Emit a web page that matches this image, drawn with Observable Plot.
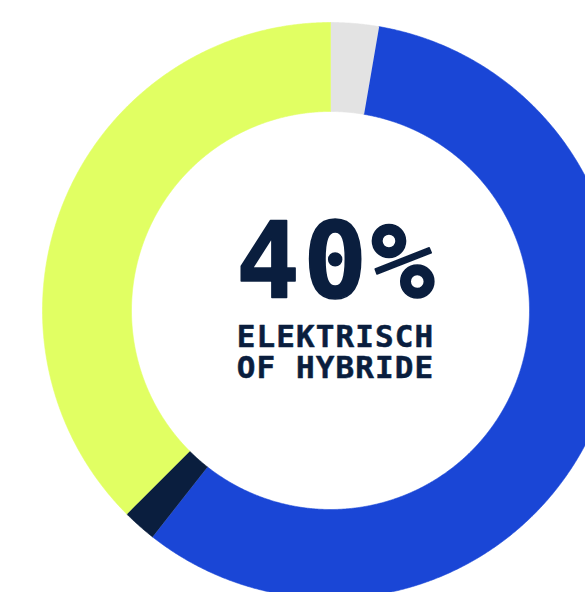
<!DOCTYPE html>
<html><head><meta charset="utf-8">
<script src="https://cdn.jsdelivr.net/npm/d3@7"></script>
<script src="https://cdn.jsdelivr.net/npm/@observablehq/plot@0.6"></script>
<style>body{margin:0;background:#fff}#chart svg{display:block}</style>
</head><body><div id="chart"></div>
<script>
// Data
const segments = ["Overig", "Benzine of diesel", "Elektrisch", "Hybride"];
const shares = [2.7, 57.9, 1.9, 37.5];
const segmentColors = ["#e3e3e3", "#1a46d6", "#0a1e3e", "#e1ff63"];
const headline = ["40%"];
const label = ["ELEKTRISCH\nOF HYBRIDE"];

// Build ring polygons from the shares (angles via d3.pie, clockwise from 12 o'clock)
const innerRatio = 0.691;
const arcs = d3.pie().sort(null).startAngle(0).endAngle(2 * Math.PI)(shares);
const ring = [];
arcs.forEach((a, i) => {
  const n = Math.max(4, Math.ceil((a.endAngle - a.startAngle) / (Math.PI / 720)));
  for (let k = 0; k <= n; k++) {
    const t = a.startAngle + (a.endAngle - a.startAngle) * k / n;
    ring.push({segment: segments[i], x: Math.sin(t), y: Math.cos(t)});
  }
  for (let k = n; k >= 0; k--) {
    const t = a.startAngle + (a.endAngle - a.startAngle) * k / n;
    ring.push({segment: segments[i], x: innerRatio * Math.sin(t), y: innerRatio * Math.cos(t)});
  }
});

const chart = Plot.plot({
  width: 585,
  height: 592,
  margin: 0,
  x: {domain: [-330 / 288, 255 / 288], axis: null},
  y: {domain: [-282 / 288, 310 / 288], axis: null},
  color: {domain: segments, range: segmentColors},
  style: {background: "#fff", overflow: "hidden"},
  marks: [
    Plot.line(ring, {x: "x", y: "y", z: "segment", fill: "segment", stroke: "segment", strokeWidth: 0.6, curve: "linear"}),
    Plot.text(headline, {x: () => 0, y: () => 0, text: d => d, lineAnchor: "bottom", dy: -13, dx: 6.5,
      fontFamily: "DejaVu Sans Mono", fontWeight: "bold", fontSize: 106, fill: "#0a1e3e",
      stroke: "#0a1e3e", strokeWidth: 1.6}),
    Plot.text(label, {x: () => 0, y: () => 0, text: d => d, lineAnchor: "top", dy: 14.5, dx: 5,
      lineHeight: 1, fontFamily: "DejaVu Sans Mono", fontWeight: "bold", fontSize: 31, fill: "#0a1e3e",
      stroke: "#0a1e3e", strokeWidth: 0.5})
  ]
});
// Letter spacing (not a Plot text option), applied to the rendered text
d3.select(chart).selectAll("text").each(function() {
  const t = this.textContent;
  if (t === headline[0]) this.setAttribute("letter-spacing", "3.5");
  else if (t.startsWith("ELEKTRISCH")) this.setAttribute("letter-spacing", "1.1");
});
document.getElementById("chart").append(chart);
</script>
</body></html>
